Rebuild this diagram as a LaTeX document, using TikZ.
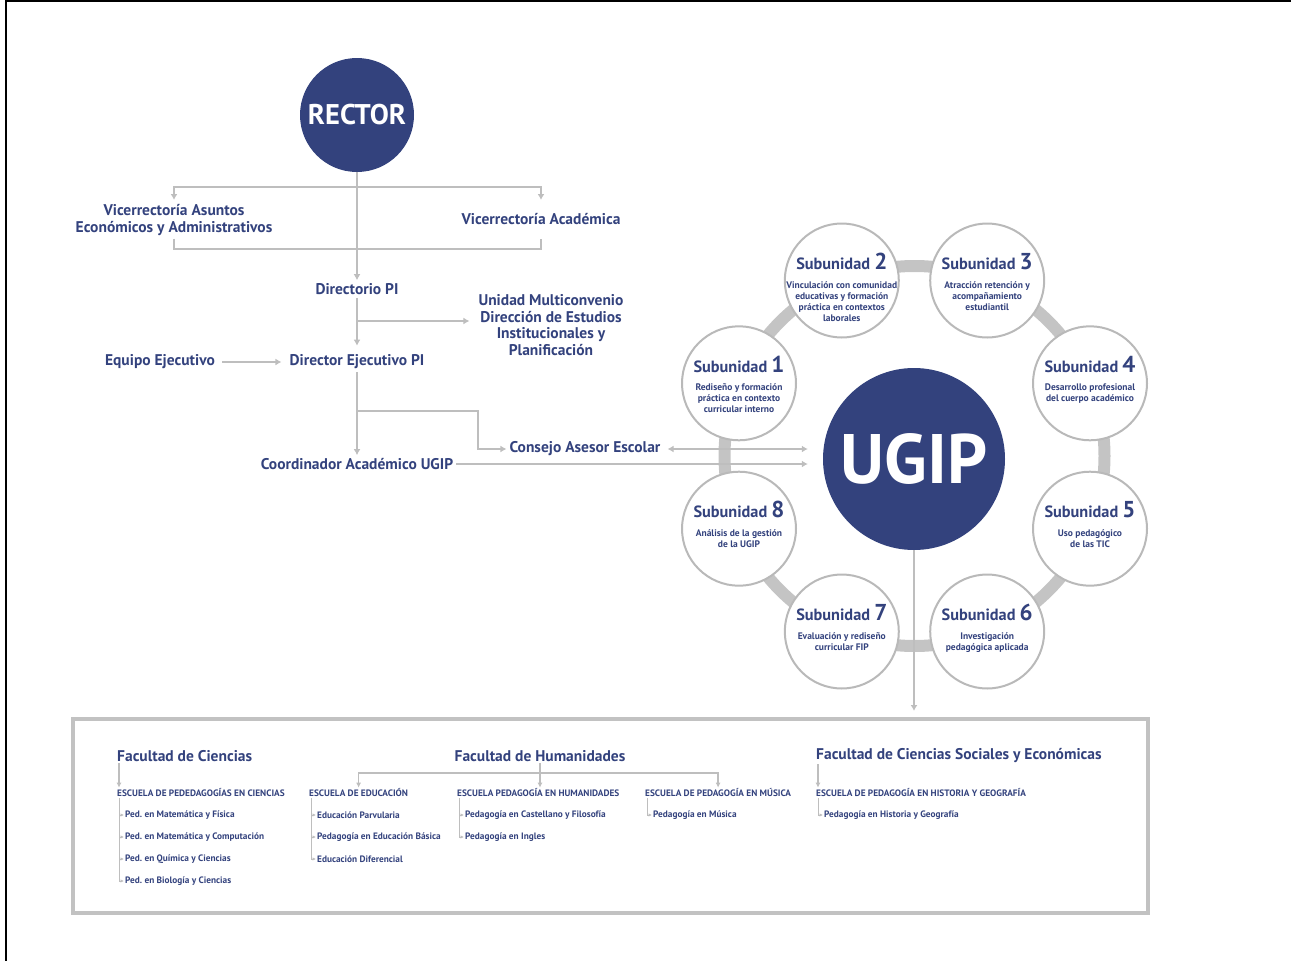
\documentclass[tikz,border=0pt]{standalone}
\usepackage{fontspec}
\setmainfont{PT Sans}
\usepackage{tikz}
\usetikzlibrary{positioning}
\usetikzlibrary{arrows.meta}
\tikzset{>={Latex[width=7pt,length=6pt]}}
\definecolor{navy}{RGB}{51,66,125}
\definecolor{linegray}{RGB}{190,190,190}
\definecolor{ringgray}{RGB}{196,196,196}
\definecolor{subgray}{RGB}{185,185,185}
\definecolor{boxgray}{RGB}{194,194,194}
\newcommand{\subnum}[1]{Subunidad {\fontsize{23}{23}\selectfont #1}}
\frenchspacing

\begin{document}
\begin{tikzpicture}[x=1pt, y=-1pt, orgtext/.style={text=navy, font=\fontsize{15.5}{16.5}\selectfont\bfseries, align=center, inner sep=3pt}, bignode/.style={circle, fill=navy, text=white, inner sep=0pt}, subnode/.style={circle, draw=subgray, line width=2pt, fill=white, minimum size=114pt, inner sep=0pt}, subhead/.style={text=navy, font=\fontsize{16.3}{16}\selectfont\bfseries, anchor=base, inner sep=0pt}, subdesc/.style={text=navy, font=\fontsize{9.5}{11}\selectfont\bfseries, align=center, anchor=north, inner sep=0pt}, conn/.style={draw=linegray, line width=1.6pt}, factext/.style={text=navy, font=\fontsize{15.5}{16}\selectfont\bfseries, inner sep=1pt}, esctext/.style={text=navy, font=\fontsize{9.3}{9}\selectfont\bfseries, anchor=west, inner sep=1pt}, facarrow/.style={draw=linegray, line width=1.3pt, -{Latex[width=5pt,length=5pt]}}, tree/.style={draw=linegray, line width=0.8pt, -{Latex[width=3.5pt,length=3.5pt]}}]
    \useasboundingbox (0,0) rectangle (1291,961);
    \draw[line width=2pt] (6,961) -- (6,1) -- (1291,1);

    %Nodes
    \node[bignode, minimum size=114pt, font=\fontsize{28.5}{28}\selectfont\bfseries](rector) at (357,115) {RECTOR};
    \node[orgtext](vicea) at (174,220) {Vicerrectoría Asuntos\\Económicos y Administrativos};
    \node[orgtext](viceb) at (541,219) {Vicerrectoría Académica};
    \node[orgtext](directorio) at (357,289) {Directorio PI};
    \node[orgtext](unidad) at (551,325) {Unidad Multiconvenio\\Dirección de Estudios\\Institucionales y\\Planificación};
    \node[orgtext](director) at (357,362) {Director Ejecutivo PI};
    \node[orgtext](equipo) at (160,362) {Equipo Ejecutivo};
    \node[orgtext](coord) at (357,464) {Coordinador Académico UGIP};
    \node[orgtext](consejo) at (585,449) {Consejo Asesor Escolar};

    \coordinate (vsplit) at (357,187);
    \coordinate (vtip) at (357,200);
    \coordinate (vbracket) at (174,249);
    \coordinate (usplit) at (357,321);
    \coordinate (csplit) at (357,411);
    \coordinate (ccorner) at (478,449);
    \coordinate (ringc) at (914.5,456);

    %Ring
    \draw[ringgray, line width=12pt] (ringc) circle (190pt);
    \node[bignode, minimum size=182pt, font=\fontsize{70}{70}\selectfont\bfseries](ugip) at (914,459) {UGIP};

    \node[subnode](s1) at (739,383.3) {};
    \node[subhead] at ([yshift=11pt]s1.center) {\subnum{1}};
    \node[subdesc] at ([yshift=-0.5pt]s1.center) {Rediseño y formación\\práctica en contexto\\curricular interno};
    \node[subnode](s2) at (841.8,280.5) {};
    \node[subhead] at ([yshift=11pt]s2.center) {\subnum{2}};
    \node[subdesc] at ([yshift=-0.5pt]s2.center) {Vinculación con comunidad\\educativas y formación\\práctica en contextos\\laborales};
    \node[subnode](s3) at (987.2,280.5) {};
    \node[subhead] at ([yshift=11pt]s3.center) {\subnum{3}};
    \node[subdesc] at ([yshift=-0.5pt]s3.center) {Atracción retención y\\acompañamiento\\estudiantil};
    \node[subnode](s4) at (1090,383.3) {};
    \node[subhead] at ([yshift=11pt]s4.center) {\subnum{4}};
    \node[subdesc] at ([yshift=-0.5pt]s4.center) {Desarrollo profesional\\del cuerpo académico};
    \node[subnode](s5) at (1090,528.7) {};
    \node[subhead] at ([yshift=11pt]s5.center) {\subnum{5}};
    \node[subdesc] at ([yshift=-0.5pt]s5.center) {Uso pedagógico\\de las TIC};
    \node[subnode](s6) at (987.2,631.5) {};
    \node[subhead] at ([yshift=11pt]s6.center) {\subnum{6}};
    \node[subdesc] at ([yshift=-0.5pt]s6.center) {Investigación\\pedagógica aplicada};
    \node[subnode](s7) at (841.8,631.5) {};
    \node[subhead] at ([yshift=11pt]s7.center) {\subnum{7}};
    \node[subdesc] at ([yshift=-0.5pt]s7.center) {Evaluación y rediseño\\curricular FIP};
    \node[subnode](s8) at (739,528.7) {};
    \node[subhead] at ([yshift=11pt]s8.center) {\subnum{8}};
    \node[subdesc] at ([yshift=-0.5pt]s8.center) {Análisis de la gestión\\de la UGIP};

    %Facultades
    \node[draw=boxgray, line width=4pt, minimum width=1075pt, minimum height=194pt, inner sep=0pt](facbox) at (610.5,816) {};
    \node[factext, anchor=west](fcien) at (116,756) {Facultad de Ciencias};
    \node[factext](fhum) at (540,756) {Facultad de Humanidades};
    \node[factext, anchor=west](fsoc) at (815,756) {Facultad de Ciencias Sociales y Económicas};
    \coordinate (hsplit) at (540,773);

    \node[esctext](esccien) at (116,793) {ESCUELA DE PEDEDAGOGÍAS EN CIENCIAS};
    \node[esctext](cien1) at (124,815) {Ped. en Matemática y Física};
    \node[esctext](cien2) at (124,837) {Ped. en Matemática y Computación};
    \node[esctext](cien3) at (124,859) {Ped. en Química y Ciencias};
    \node[esctext](cien4) at (124,881) {Ped. en Biología y Ciencias};

    \node[esctext](escedu) at (308,793) {ESCUELA DE EDUCACIÓN};
    \node[esctext](edu1) at (316,815) {Educación Parvularia};
    \node[esctext](edu2) at (316,837) {Pedagogía en Educación Básica};
    \node[esctext](edu3) at (316,859) {Educación Diferencial};

    \node[esctext](eschum) at (456,793) {ESCUELA PEDAGOGÍA EN HUMANIDADES};
    \node[esctext](hum1) at (464,815) {Pedagogía en Castellano y Filosofía};
    \node[esctext](hum2) at (464,837) {Pedagogía en Ingles};

    \node[esctext](escmus) at (644,793) {ESCUELA DE PEDAGOGÍA EN MÚSICA};
    \node[esctext](mus1) at (652,815) {Pedagogía en Música};

    \node[esctext](eschist) at (815,793) {ESCUELA DE PEDAGOGÍA EN HISTORIA Y GEOGRAFÍA};
    \node[esctext](hist1) at (823,815) {Pedagogía en Historia y Geografía};

    %Lines
    \draw[conn, ->] (rector) -- (directorio);
    \draw[conn, ->] (vsplit) -| (vicea.north |- vtip);
    \draw[conn, ->] (vsplit) -| (viceb.north |- vtip);
    \draw[conn] (vicea.south) |- (vbracket) -| (viceb.south |- vicea.south);
    \draw[conn, ->, shorten >=6pt] (directorio) -- (director);
    \draw[conn, ->, shorten >=6pt] (usplit) -- (usplit -| unidad.west);
    \draw[conn, ->, shorten <=4pt, shorten >=5pt] (equipo) -- (director);
    \draw[conn, ->] (director) -- (coord);
    \draw[conn, ->] (csplit) -| (ccorner) -- (consejo.west);
    \draw[conn, <->, shorten <=4pt, shorten >=15pt] (consejo.east) -- (consejo.east -| ugip.west);
    \draw[conn, ->, shorten >=15pt] (coord.east) -- (coord.east -| ugip.west);
    \draw[conn, ->, shorten >=6pt] (ugip) -- (ugip |- facbox.north);

    \draw[facarrow] ([xshift=3pt]fcien.south west) -- ([xshift=3pt]esccien.north west);
    \draw[facarrow] ([xshift=3pt]fsoc.south west) -- ([xshift=3pt]eschist.north west);
    \draw[facarrow] (fhum) -- (fhum |- eschum.north);
    \draw[facarrow] (hsplit) -| (escedu.north);
    \draw[facarrow] (hsplit) -| (escmus.north);

    \draw[tree] ([xshift=3pt]esccien.south west) |- (cien1.west);
    \draw[tree] ([xshift=3pt]esccien.south west) |- (cien2.west);
    \draw[tree] ([xshift=3pt]esccien.south west) |- (cien3.west);
    \draw[tree] ([xshift=3pt]esccien.south west) |- (cien4.west);
    \draw[tree] ([xshift=3pt]escedu.south west) |- (edu1.west);
    \draw[tree] ([xshift=3pt]escedu.south west) |- (edu2.west);
    \draw[tree] ([xshift=3pt]escedu.south west) |- (edu3.west);
    \draw[tree] ([xshift=3pt]eschum.south west) |- (hum1.west);
    \draw[tree] ([xshift=3pt]eschum.south west) |- (hum2.west);
    \draw[tree] ([xshift=3pt]escmus.south west) |- (mus1.west);
    \draw[tree] ([xshift=3pt]eschist.south west) |- (hist1.west);

\end{tikzpicture}
\end{document}
